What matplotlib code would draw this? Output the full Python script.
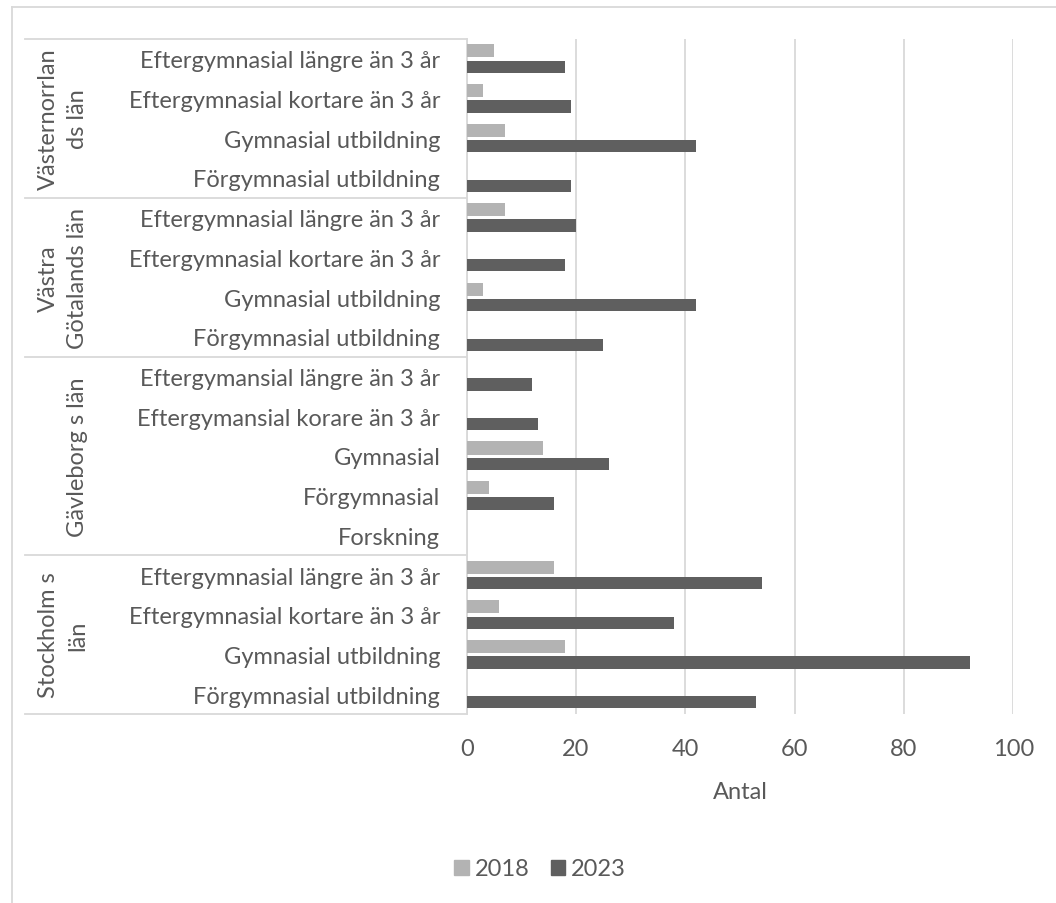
import matplotlib.pyplot as plt
from matplotlib.lines import Line2D
from matplotlib.patches import Patch

# categories listed top to bottom as in the chart
groups = ["Västernorrlan\nds län", "Västra\nGötalands län", "Gävleborg s län", "Stockholm s\nlän"]
categories = [
    ["Eftergymnasial längre än 3 år", "Eftergymnasial kortare än 3 år",
     "Gymnasial utbildning", "Förgymnasial utbildning"],
    ["Eftergymnasial längre än 3 år", "Eftergymnasial kortare än 3 år",
     "Gymnasial utbildning", "Förgymnasial utbildning"],
    ["Eftergymansial längre än 3 år", "Eftergymansial korare än 3 år",
     "Gymnasial", "Förgymnasial", "Forskning"],
    ["Eftergymnasial längre än 3 år", "Eftergymnasial kortare än 3 år",
     "Gymnasial utbildning", "Förgymnasial utbildning"],
]
values_2018 = [
    [5, 3, 7, 0],
    [7, 0, 3, 0],
    [0, 0, 14, 4, 0],
    [16, 6, 18, 0],
]
values_2023 = [
    [18, 19, 42, 19],
    [20, 18, 42, 25],
    [12, 13, 26, 16, 0],
    [54, 38, 92, 53],
]
xticks = [0, 20, 40, 60, 80, 100]

plt.rcParams['font.family'] = ['Lato', 'DejaVu Sans']
TXT = '#595959'
GRID = '#d9d9d9'
FS = 17

W, H = 1056, 904
fig = plt.figure(figsize=(W / 100, H / 100), dpi=100)
ax = fig.add_axes([466.7 / W, 1 - 715 / H, 546.6 / W, (715 - 40) / H])

# flatten so the first category ends up at the top
labels = [c for cats in categories for c in cats]
v18 = [v for vals in values_2018 for v in vals]
v23 = [v for vals in values_2023 for v in vals]
n = len(labels)
pos = [n - 1 - i for i in range(n)]

ax.barh([p + 0.2 for p in pos], v18, height=0.33, color='#b3b3b3', label='2018', zorder=3)
ax.barh([p - 0.2 for p in pos], v23, height=0.31, color='#5f5f5f', label='2023', zorder=3)

ax.set_xlim(0, 100)
ax.set_ylim(-0.5, n - 0.5)
ax.set_xticks(xticks)
ax.set_yticks(pos)
ax.set_yticklabels(labels)
ax.tick_params(axis='both', length=0, labelsize=FS, labelcolor=TXT)
ax.tick_params(axis='y', pad=19)
ax.tick_params(axis='x', pad=17)
ax.grid(axis='x', color=GRID, lw=1.3, zorder=0)
for s in ['top', 'right', 'bottom']:
    ax.spines[s].set_visible(False)
ax.spines['left'].set_color(GRID)
ax.spines['left'].set_linewidth(1.3)
ax.set_xlabel('Antal', fontsize=FS, color=TXT, labelpad=16)

# multi-level category table on the left
trans = ax.get_yaxis_transform()
x_left = (25 - 466.7) / 546.6
start = n
bounds = [n - 0.5]
for g, cats in zip(groups, categories):
    top = start - 0.5
    start -= len(cats)
    bottom = start - 0.5
    bounds.append(bottom)
    ax.text((88 - 466.7) / 546.6, (top + bottom) / 2, g, transform=trans, rotation=90,
            ha='right', va='center', fontsize=FS, color=TXT, linespacing=1.5,
            multialignment='center')
for b in bounds:
    ax.add_line(Line2D([x_left, 0], [b, b], transform=trans, color=GRID, lw=1.3, clip_on=False))

# chart border (only left and top visible in the crop)
fig.add_artist(Line2D([11.5 / W, 11.5 / W], [0, 1 - 8 / H], color=GRID, lw=1.3))
fig.add_artist(Line2D([11.5 / W, 1], [1 - 8 / H, 1 - 8 / H], color=GRID, lw=1.3))

handles = [Patch(color='#b3b3b3', label='2018'), Patch(color='#5f5f5f', label='2023')]
fig.legend(handles=handles, loc='center', bbox_to_anchor=(540 / W, 1 - 870 / H), ncol=2,
           frameon=False, fontsize=FS, labelcolor=TXT, handlelength=0.6, handleheight=0.6,
           handletextpad=0.25, columnspacing=0.9)

fig.savefig('out.png', dpi=100)
